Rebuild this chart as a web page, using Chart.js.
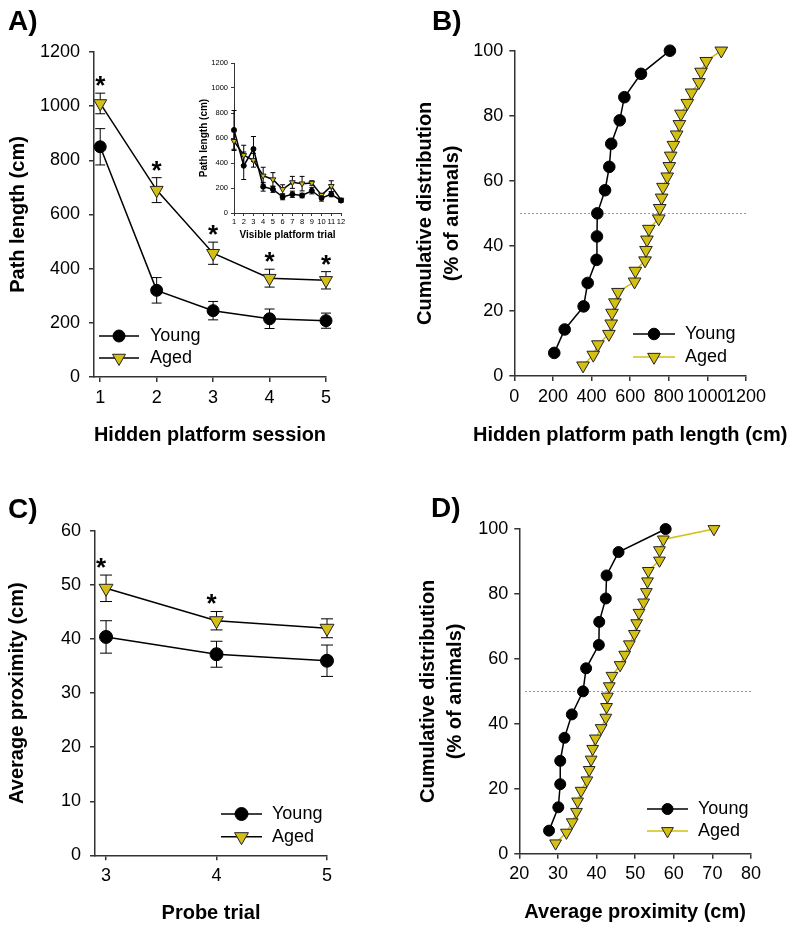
<!DOCTYPE html>
<html>
<head>
<meta charset="utf-8">
<script src="https://cdn.jsdelivr.net/npm/chart.js@4/dist/chart.umd.min.js"></script>
<style>
  body { margin: 0; background: #fff; }
  #page { position: relative; width: 800px; height: 931px; overflow: hidden; }
  canvas, .tag { position: absolute; }
  .tag { font: bold 28px 'Liberation Sans', Arial, sans-serif; line-height: 1; }
</style>
</head>
<body>
<div id="page">
  <canvas id="chartA" style="left:0;top:0" width="400" height="460"></canvas>
  <canvas id="chartB" style="left:400px;top:0" width="400" height="460"></canvas>
  <canvas id="chartC" style="left:0;top:460px" width="400" height="471"></canvas>
  <canvas id="chartD" style="left:400px;top:460px" width="400" height="471"></canvas>
  <canvas id="inset" style="left:190px;top:55px" width="165" height="190"></canvas>
  <div class="tag" style="left:8px;top:7px">A)</div>
  <div class="tag" style="left:432px;top:7px">B)</div>
  <div class="tag" style="left:8px;top:495px">C)</div>
  <div class="tag" style="left:431px;top:494px">D)</div>
</div>
<script>
// A) hidden platform sessions
const sessions = [1, 2, 3, 4, 5]
const youngPath = [850, 320, 245, 215, 208]
const youngPathErr = [67, 47, 34, 36, 28]
const agedPath = [1010, 690, 457, 365, 357]
const agedPathErr = [38, 46, 41, 33, 32]
const starSessions = [1, 2, 3, 4, 5]
const pathTicks = [0, 200, 400, 600, 800, 1000, 1200]

// A) inset, visible platform trials
const visTrials = [1, 2, 3, 4, 5, 6, 7, 8, 9, 10, 11, 12]
const youngVis = [665, 378, 512, 210, 190, 128, 150, 140, 178, 120, 150, 100]
const youngVisErr = [155, 110, 100, 35, 25, 22, 25, 18, 25, 25, 20, 15]
const agedVis = [575, 462, 422, 298, 268, 190, 245, 235, 240, 143, 215, 105]
const agedVisErr = [75, 80, 55, 68, 55, 36, 48, 58, 18, 15, 43, 12]

// B) and D) cumulative distributions
const youngCumPct = [7.1, 14.3, 21.4, 28.6, 35.7, 42.9, 50, 57.1, 64.3, 71.4, 78.6, 85.7, 92.9, 100]
const agedCumPct = [3.2, 6.5, 9.7, 12.9, 16.1, 19.4, 22.6, 25.8, 29.0, 32.3, 35.5, 38.7, 41.9, 45.2, 48.4, 51.6,
  54.8, 58.1, 61.3, 64.5, 67.7, 71.0, 74.2, 77.4, 80.6, 83.9, 87.1, 90.3, 93.5, 96.8, 100]
const youngPathLen = [207, 261, 359, 380, 426, 428, 430, 470, 492, 502, 546, 570, 656, 806]
const agedPathLen = [356, 409, 433, 490, 502, 506, 521, 537, 623, 627, 677, 682, 687, 697, 748, 753,
  763, 770, 792, 803, 810, 824, 841, 855, 863, 896, 918, 956, 967, 994, 1072]
const pathLenTicks = [0, 200, 400, 600, 800, 1000, 1200]
const pctTicks = [0, 20, 40, 60, 80, 100]

// C) probe trials
const probeTrials = [3, 4, 5]
const youngProx = [40.4, 37.2, 36.0]
const youngProxErr = [3.0, 2.4, 2.9]
const agedProx = [49.4, 43.4, 42.0]
const agedProxErr = [2.45, 1.7, 1.75]
const starProbes = [3, 4]
const proxTicks = [0, 10, 20, 30, 40, 50, 60]

// D) average proximity distribution
const youngProxCum = [27.7, 30.1, 30.6, 30.6, 31.7, 33.6, 36.5, 37.3, 40.6, 40.7, 42.4, 42.6, 45.7, 57.9]
const agedProxCum = [29.4, 32.2, 33.7, 34.8, 35.1, 36.0, 37.5, 38.1, 38.6, 39.0, 39.7, 41.2, 42.4, 42.6, 42.8, 43.3,
  44.0, 46.1, 47.3, 48.5, 49.8, 50.4, 51.0, 52.2, 52.9, 53.2, 53.4, 56.3, 56.3, 57.3, 70.4]
const proxCumTicks = [20, 30, 40, 50, 60, 70, 80]

const FONT = "'Liberation Sans', Arial, Helvetica, sans-serif"
const AXIS = '#333'
const YELLOW = '#d4bf14'
Chart.defaults.font.family = FONT
Chart.defaults.color = '#000'

const pts = (xs, ys) => xs.map((x, i) => ({ x, y: ys[i] }))

function marker (ctx, style, x, y, r) {
  ctx.beginPath()
  if (style === 'circle') {
    ctx.arc(x, y, r, 0, Math.PI * 2)
  } else {
    // downward triangle, same geometry as chart.js triangle rotated 180
    let a = Math.PI
    ctx.moveTo(x + Math.sin(a) * r, y - Math.cos(a) * r)
    a += Math.PI * 2 / 3
    ctx.lineTo(x + Math.sin(a) * r, y - Math.cos(a) * r)
    a += Math.PI * 2 / 3
    ctx.lineTo(x + Math.sin(a) * r, y - Math.cos(a) * r)
    ctx.closePath()
  }
  ctx.fill()
  ctx.stroke()
}

const extras = {
  id: 'extras',
  beforeDatasetsDraw (chart, args, o) {
    const { ctx, chartArea: a, scales: { x, y } } = chart
    if (o.refLine != null) {
      const py = Math.round(y.getPixelForValue(o.refLine)) + 0.5
      ctx.save()
      ctx.strokeStyle = '#777'
      ctx.lineWidth = 1
      ctx.setLineDash([1.5, 2.5])
      ctx.beginPath()
      ctx.moveTo(a.left + 6, py)
      ctx.lineTo(a.right, py)
      ctx.stroke()
      ctx.restore()
    }
    ctx.save()
    ctx.strokeStyle = '#000'
    ctx.lineWidth = 1
    chart.data.datasets.forEach(ds => {
      if (!ds.errors) return
      ds.data.forEach((p, i) => {
        const px = x.getPixelForValue(p.x)
        const hi = y.getPixelForValue(p.y + ds.errors[i])
        const lo = y.getPixelForValue(p.y - ds.errors[i])
        ctx.beginPath()
        ctx.moveTo(px, hi); ctx.lineTo(px, lo)
        ctx.moveTo(px - o.cap, hi); ctx.lineTo(px + o.cap, hi)
        ctx.moveTo(px - o.cap, lo); ctx.lineTo(px + o.cap, lo)
        ctx.stroke()
      })
    })
    ctx.restore()
  },
  afterDraw (chart, args, o) {
    const { ctx, chartArea: a, scales: { x, y } } = chart
    if (o.xTitle) {
      // wide axis title, allowed to run past the plot width
      ctx.save()
      ctx.font = `bold ${o.xTitle.size}px ${FONT}`
      ctx.textAlign = 'center'
      ctx.textBaseline = 'middle'
      ctx.fillStyle = '#000'
      ctx.fillText(o.xTitle.text, (a.left + a.right) / 2, o.xTitle.y)
      ctx.restore()
    }
    if (o.stars) {
      const s = o.stars
      const ds = chart.data.datasets[s.dataset]
      ctx.save()
      ctx.font = `bold ${s.size}px ${FONT}`
      ctx.textAlign = 'center'
      ctx.textBaseline = 'alphabetic'
      ctx.fillStyle = '#000'
      ds.data.forEach((p, i) => {
        if (!s.at.includes(p.x)) return
        const top = y.getPixelForValue(p.y + ds.errors[i])
        ctx.fillText('*', x.getPixelForValue(p.x) + s.dx, top - s.gap + 0.575 * s.size)
      })
      ctx.restore()
    }
    if (o.key) {
      const k = o.key
      ctx.save()
      ctx.font = `${k.size}px ${FONT}`
      ctx.textBaseline = 'middle'
      chart.data.datasets.forEach((ds, i) => {
        const ly = k.y + i * k.row
        ctx.strokeStyle = ds.borderColor
        ctx.lineWidth = ds.borderWidth
        ctx.beginPath()
        ctx.moveTo(k.x, ly)
        ctx.lineTo(k.x + k.len, ly)
        ctx.stroke()
        ctx.fillStyle = ds.pointBackgroundColor
        ctx.strokeStyle = ds.pointBorderColor
        ctx.lineWidth = ds.pointBorderWidth
        marker(ctx, ds.pointStyle, k.x + k.len / 2, ly, ds.pointRadius)
        ctx.fillStyle = '#000'
        ctx.fillText(ds.label, k.x + k.len + k.gap, ly)
      })
      ctx.restore()
    }
  }
}

function youngSet (xs, ys, err, r) {
  return {
    label: 'Young', data: pts(xs, ys), errors: err, showLine: true, clip: false,
    borderColor: '#000', borderWidth: 1.5,
    pointStyle: 'circle', pointRadius: r, pointHoverRadius: r,
    pointBackgroundColor: '#000', pointBorderColor: '#000', pointBorderWidth: 1
  }
}

function agedSet (xs, ys, err, r, lineColor) {
  return {
    label: 'Aged', data: pts(xs, ys), errors: err, showLine: true, clip: false,
    borderColor: lineColor, borderWidth: 1.5,
    pointStyle: 'triangle', pointRotation: 180, pointRadius: r, pointHoverRadius: r,
    pointBackgroundColor: YELLOW, pointBorderColor: '#222', pointBorderWidth: 1
  }
}

function axis (o) {
  return {
    type: 'linear',
    min: o.min,
    max: o.max,
    afterBuildTicks: s => { s.ticks = o.ticks.map(v => ({ value: v })) },
    afterFit: s => { if (o.width) s.width = o.width; if (o.height) s.height = o.height },
    ticks: {
      autoSkip: false, maxRotation: 0, minRotation: 0,
      padding: o.pad, font: { size: o.tickSize }, color: '#000',
      callback: v => String(v)
    },
    grid: { drawOnChartArea: false, tickLength: o.tl, color: AXIS, lineWidth: o.lw },
    border: { color: AXIS, width: o.lw },
    title: {
      display: !!o.title, text: o.title, color: '#000',
      font: { size: o.titleSize, weight: 'bold', lineHeight: o.titleLh || 1.2 },
      padding: o.titlePad
    }
  }
}

function makeChart (id, datasets, scales, padding, extra) {
  return new Chart(document.getElementById(id), {
    type: 'scatter',
    data: { datasets },
    options: {
      responsive: false,
      animation: false,
      events: [],
      layout: { padding },
      scales,
      plugins: { legend: { display: false }, tooltip: { enabled: false }, extras: extra }
    },
    plugins: [extras]
  })
}

// A
makeChart('chartA',
  [youngSet(sessions, youngPath, youngPathErr, 6), agedSet(sessions, agedPath, agedPathErr, 7.5, '#000')],
  {
    x: axis({ min: 0.89, max: 5, ticks: sessions, height: 83, pad: 5, tickSize: 18, tl: 5, lw: 1.5,
      title: 'Hidden platform session', titleSize: 20, titlePad: { top: 0, bottom: 13 } }),
    y: axis({ min: 0, max: 1200, ticks: pathTicks, width: 94, pad: 9, tickSize: 18, tl: 5, lw: 1.5,
      title: 'Path length (cm)', titleSize: 20, titlePad: { top: 6, bottom: 0 } })
  },
  { left: 0, top: 52, right: 74, bottom: 0 },
  {
    cap: 5,
    stars: { dataset: 1, at: starSessions, size: 26, gap: 14, dx: 0 },
    key: { x: 99, y: 336, len: 40, row: 22, gap: 11, size: 18 }
  })

// A inset
makeChart('inset',
  [youngSet(visTrials, youngVis, youngVisErr, 2.5), agedSet(visTrials, agedVis, agedVisErr, 3.3, '#000')],
  {
    x: axis({ min: 1, max: 12, ticks: visTrials, height: 32, pad: 1, tickSize: 7.5, tl: 3, lw: 1,
      title: 'Visible platform trial', titleSize: 10, titlePad: { top: 0, bottom: 4 } }),
    y: axis({ min: 0, max: 1200, ticks: pathTicks, width: 44, pad: 3, tickSize: 7.5, tl: 3, lw: 1,
      title: 'Path length (cm)', titleSize: 10, titlePad: { top: 8, bottom: 0 } })
  },
  { left: 0, top: 8, right: 14, bottom: 0 },
  { cap: 2.5 })

// B
makeChart('chartB',
  [youngSet(youngPathLen, youngCumPct, null, 5.8), agedSet(agedPathLen, agedCumPct, null, 7.3, YELLOW)],
  {
    x: axis({ min: 0, max: 1200, ticks: pathLenTicks, height: 84, pad: 5, tickSize: 18, tl: 5, lw: 1.5 }),
    y: axis({ min: 0, max: 100, ticks: pctTicks, width: 114.3, pad: 6, tickSize: 18, tl: 5, lw: 1.5,
      title: ['Cumulative distribution', '(% of animals)'], titleSize: 20, titleLh: 1.35,
      titlePad: { top: 11.5, bottom: 0 } })
  },
  { left: 0, top: 50.7, right: 54, bottom: 0 },
  {
    cap: 0,
    refLine: 50,
    xTitle: { text: 'Hidden platform path length (cm)', size: 20, y: 435 },
    key: { x: 233, y: 334, len: 42, row: 23, gap: 10, size: 18 }
  })

// C
makeChart('chartC',
  [youngSet(probeTrials, youngProx, youngProxErr, 6.5), agedSet(probeTrials, agedProx, agedProxErr, 8, '#000')],
  {
    x: axis({ min: 2.9, max: 5, ticks: probeTrials, height: 75.7, pad: 5, tickSize: 18, tl: 5, lw: 1.5,
      title: 'Probe trial', titleSize: 20, titlePad: { top: 0, bottom: 6 } }),
    y: axis({ min: 0, max: 60, ticks: proxTicks, width: 95, pad: 9, tickSize: 18, tl: 5, lw: 1.5,
      title: 'Average proximity (cm)', titleSize: 20, titlePad: { top: 5, bottom: 0 } })
  },
  { left: 0, top: 71, right: 73, bottom: 0 },
  {
    cap: 6,
    stars: { dataset: 1, at: starProbes, size: 26, gap: 14, dx: -5 },
    key: { x: 221, y: 354, len: 41, row: 22.7, gap: 10, size: 18 }
  })

// D
makeChart('chartD',
  [youngSet(youngProxCum, youngCumPct, null, 5.5), agedSet(agedProxCum, agedCumPct, null, 6.8, YELLOW)],
  {
    x: axis({ min: 20, max: 80, ticks: proxCumTicks, height: 77.3, pad: 5, tickSize: 18, tl: 5, lw: 1.5,
      title: 'Average proximity (cm)', titleSize: 20, titlePad: { top: 0, bottom: 7 } }),
    y: axis({ min: 0, max: 100, ticks: pctTicks, width: 119.3, pad: 6, tickSize: 18, tl: 5, lw: 1.5,
      title: ['Cumulative distribution', '(% of animals)'], titleSize: 20, titleLh: 1.35,
      titlePad: { top: 14.5, bottom: 0 } })
  },
  { left: 0, top: 69, right: 49, bottom: 0 },
  { cap: 0, refLine: 50, key: { x: 247, y: 349, len: 41, row: 22, gap: 10, size: 18 } })
</script>
</body>
</html>
